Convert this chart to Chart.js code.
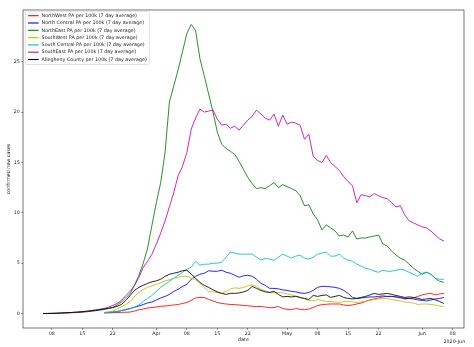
<!DOCTYPE html>
<html>
<head>
<meta charset="utf-8">
<script src="https://cdn.jsdelivr.net/npm/chart.js@4/dist/chart.umd.min.js"></script>
<style>
  html, body { margin: 0; padding: 0; background: #fff; }
  canvas { display: block; }
</style>
</head>
<body>
<canvas id="chart" width="474" height="347"></canvas>
<script>
// Daily series begin on this date; one value per day (null = no report yet).
const startDate = '2020-03-06';

const tickDates = ['2020-03-08', '2020-03-15', '2020-03-22', '2020-04-01', '2020-04-08', '2020-04-15',
                   '2020-04-22', '2020-05-01', '2020-05-08', '2020-05-15', '2020-05-22', '2020-06-01', '2020-06-08'];
const tickLabels = ['08', '15', '22', 'Apr', '08', '15', '22', 'May', '08', '15', '22', 'Jun', '08'];
const yTicks = [0, 5, 10, 15, 20, 25];

const seriesNames = [
  'NorthWest PA per 100k (7 day average)',
  'North Central PA per 100k (7 day average)',
  'NorthEast PA per 100k (7 day average)',
  'SouthWest PA per 100k (7 day average)',
  'South Central PA per 100k (7 day average)',
  'SouthEast PA per 100k (7 day average)',
  'Allegheny County per 100k (7 day average)'
];
const seriesColors = ['#ff0000', '#0000ff', '#008000', '#bfbf00', '#00bfbf', '#bf00bf', '#000000'];

const none14 = [null, null, null, null, null, null, null, null, null, null, null, null, null, null];

const northWest = none14.concat([
  0.05, 0.06, 0.08, 0.1, 0.12, 0.13,
  0.15, 0.25, 0.37, 0.45, 0.55, 0.6, 0.65, 0.72, 0.75, 0.8,
  0.85, 0.9, 1.0, 1.1, 1.3, 1.55, 1.6, 1.6, 1.4, 1.25,
  1.1, 1.0, 0.95, 0.9, 0.88, 0.85, 0.8, 0.78, 0.72, 0.7,
  0.7, 0.65, 0.58, 0.6, 0.7, 0.5, 0.42, 0.38, 0.5, 0.42,
  0.38, 0.45, 0.6, 0.8, 0.88, 0.92, 0.95, 0.95, 0.95, 0.85,
  0.8, 0.85, 0.95, 1.05, 1.2, 1.35, 1.45, 1.55, 1.65, 1.7,
  1.7, 1.65, 1.55, 1.45, 1.5, 1.55, 1.7, 1.85, 1.95, 2.0,
  1.85, 1.95, 2.0
]);

const northCentral = none14.concat([
  0.1, 0.12, 0.15, 0.2, 0.3, 0.4,
  0.5, 0.62, 0.75, 0.9, 1.05, 1.15, 1.35, 1.55, 1.7, 1.9,
  2.2, 2.4, 2.7, 2.9, 3.4, 3.7, 3.9, 4.0, 4.25, 4.2,
  4.2, 4.3, 4.1, 4.0, 3.8, 3.6, 3.75, 3.8, 3.7, 3.4,
  3.0, 2.8, 2.5, 2.5, 2.45, 2.35, 2.3, 2.2, 2.15, 2.05,
  2.0, 2.1, 2.3, 2.6, 2.7, 2.7, 2.65, 2.6, 2.5, 2.3,
  2.0, 1.6, 1.5, 1.55, 1.6, 1.65, 1.65, 1.7, 1.75, 1.7,
  1.7, 1.65, 1.6, 1.5, 1.5, 1.45, 1.35, 1.3, 1.25, 1.35,
  1.45, 1.5, 1.6
]);

const northEast = [
  0.0, 0.0, 0.01, 0.02, 0.03, 0.05, 0.07, 0.09, 0.1, 0.13,
  0.17, 0.22, 0.27, 0.33, 0.4, 0.5, 0.6, 0.85, 1.15, 1.55,
  2.0, 2.8, 3.8, 5.0, 6.5, 8.8, 11.0, 13.0, 16.0, 21.0,
  22.6, 24.2, 26.0, 27.8, 28.7, 28.1, 25.3, 23.6, 21.8, 20.0,
  18.0, 16.8, 16.4, 16.1, 15.8, 15.1, 14.3, 13.5, 12.9, 12.4,
  12.5, 12.4, 12.7, 13.0, 12.5, 12.8, 12.6, 12.4, 12.2, 11.7,
  10.7, 10.8, 9.9, 9.3, 8.3, 8.8, 8.5, 8.2, 7.7, 7.8,
  7.6, 8.2, 7.4, 7.5, 7.5, 7.6, 7.7, 7.8, 6.9, 6.7,
  6.2, 5.8, 5.5, 5.3, 4.9, 4.5, 4.2, 3.9, 4.1, 3.9,
  3.5, 3.2, 3.1
];

const southWest = none14.concat([
  0.1, 0.15, 0.25, 0.45, 0.7, 0.9,
  1.2, 1.7, 2.1, 2.4, 2.6, 2.75, 2.9, 3.05, 3.25, 3.35,
  3.5, 3.6, 3.7, 3.7, 3.5, 3.35, 3.0, 2.6, 2.2, 2.15,
  2.1, 2.0, 2.2, 2.45, 2.55, 2.5, 2.6, 2.75, 2.85, 2.7,
  2.4, 2.25, 2.1, 2.05, 2.1, 2.05, 1.95, 1.85, 1.75, 1.6,
  1.45, 1.3, 1.25, 1.4, 1.3, 1.2, 1.2, 1.15, 1.1, 1.2,
  1.2, 1.15, 1.1, 1.15, 1.2, 1.3, 1.4, 1.45, 1.5, 1.5,
  1.4, 1.3, 1.25, 1.15, 1.1, 1.05, 0.9, 0.95, 0.95, 0.9,
  0.85, 0.75, 0.7
]);

const southCentral = none14.concat([
  0.1, 0.12, 0.15, 0.2, 0.28, 0.36,
  0.48, 0.65, 0.85, 1.2, 1.5, 1.8, 2.2, 2.6, 2.9, 3.2,
  3.5, 3.8, 4.1, 4.4, 4.6, 5.2, 4.8, 4.9, 4.9, 5.0,
  5.0, 5.1, 5.6, 6.1, 6.0, 5.9, 5.9, 5.9, 5.9, 5.6,
  5.3, 5.5, 5.4, 5.3, 5.6, 5.9, 5.7, 5.5, 5.7, 5.8,
  5.5, 5.4, 5.6, 5.9, 6.0, 6.1, 5.7, 5.7, 5.9, 5.5,
  5.3, 5.2, 4.9, 4.7, 4.5, 4.4, 4.2, 4.1, 4.3, 4.2,
  4.2, 4.3, 4.4, 4.3, 4.1, 3.9, 3.7, 4.0, 4.1, 3.9,
  3.5, 3.4, 3.4
]);

const southEast = [
  0.0, 0.01, 0.02, 0.03, 0.05, 0.07, 0.09, 0.12, 0.15, 0.19,
  0.24, 0.3, 0.36, 0.43, 0.5, 0.62, 0.8, 1.0, 1.3, 1.8,
  2.2, 2.8, 3.6, 4.6, 5.2, 5.9, 6.9, 8.0, 9.2, 10.6,
  12.0, 13.7, 14.6, 16.0, 18.3, 19.4, 20.3, 20.0, 20.1, 20.2,
  19.3, 18.7, 18.8, 18.4, 18.6, 18.2, 18.7, 19.2, 19.6, 20.2,
  19.8, 19.4, 19.2, 19.8, 18.6, 19.7, 18.8, 19.0, 18.9, 18.7,
  17.3, 17.8, 15.6, 15.2, 15.0, 15.7, 15.0, 14.6, 14.2, 13.6,
  13.1, 12.7, 11.0, 11.8, 11.7, 11.6, 11.9, 11.7, 11.5, 11.4,
  11.0, 10.6, 10.7, 9.8, 9.2, 9.0, 8.8, 8.6, 8.5, 8.2,
  7.8, 7.4, 7.2
];

const allegheny = [
  0.0, 0.01, 0.02, 0.03, 0.05, 0.07, 0.09, 0.12, 0.15, 0.18,
  0.22, 0.27, 0.32, 0.38, 0.45, 0.52, 0.6, 0.72, 0.9, 1.3,
  1.8, 2.3, 2.6, 2.8, 3.0, 3.15, 3.25, 3.4, 3.7, 3.9,
  4.0, 4.1, 4.25, 4.3, 3.9, 3.5, 3.1, 2.8, 2.6, 2.35,
  2.15, 2.0, 1.9, 2.0, 2.0, 2.05, 2.15, 2.3, 2.7, 2.5,
  2.3, 2.15, 2.1, 2.2, 1.9, 1.65, 1.7, 1.65, 1.7, 1.6,
  1.5, 1.4, 1.8, 1.7, 1.8, 1.85, 1.6, 1.7, 1.8, 1.6,
  1.5, 1.45, 1.5, 1.6, 1.7, 1.85, 2.0, 1.9, 1.95, 2.0,
  1.9, 1.8, 1.7, 1.6, 1.65, 1.6, 1.5, 1.4, 1.45, 1.5,
  1.35, 1.2, 1.0
];

const seriesValues = [northWest, northCentral, northEast, southWest, southCentral, southEast, allegheny];

// Day offsets relative to the first day of data.
const DAY_MS = 86400000;
const t0 = Date.parse(startDate + 'T00:00:00Z');
const dayOf = (iso) => Math.round((Date.parse(iso + 'T00:00:00Z') - t0) / DAY_MS);
const tickDays = tickDates.map(dayOf);

const nDays = northEast.length;
const firstDay = 0, lastDay = nDays - 1;
const xPad = (lastDay - firstDay) * 0.05;
let yMaxData = 0;
seriesValues.forEach(s => s.forEach(v => { if (v !== null && v > yMaxData) yMaxData = v; }));
const yPad = yMaxData * 0.05;

const FONT = '"DejaVu Sans", "Liberation Sans", sans-serif';
const FS = 4.8;

const datasets = seriesValues.map((vals, i) => ({
  label: seriesNames[i],
  data: vals.map((v, d) => ({ x: d, y: v })),
  borderColor: seriesColors[i],
  backgroundColor: seriesColors[i],
  borderWidth: 0.85,
  pointRadius: 0,
  tension: 0,
  fill: false,
  spanGaps: false,
  order: seriesValues.length - i
}));

// Frame around the plotting area (all four spines).
const framePlugin = {
  id: 'frame',
  afterDatasetsDraw(chart) {
    const { ctx, chartArea: a } = chart;
    ctx.save();
    ctx.strokeStyle = '#3a3a3a';
    ctx.lineWidth = 0.7;
    ctx.strokeRect(a.left, a.top, a.right - a.left, a.bottom - a.top);
    ctx.restore();
  }
};

// Legend box in the upper-left corner of the plot.
const legendPlugin = {
  id: 'cornerLegend',
  afterDraw(chart) {
    const { ctx, chartArea: a } = chart;
    const ds = chart.data.datasets;
    ctx.save();
    ctx.font = FS + 'px ' + FONT;
    let maxW = 0;
    ds.forEach(d => { maxW = Math.max(maxW, ctx.measureText(d.label).width); });
    const x0 = a.left + 2.3, y0 = a.top + 1.2;
    const pitch = 7.3;
    const lineX0 = x0 + 2.7, lineX1 = x0 + 13.4, textX = x0 + 16.3;
    const w = textX - x0 + maxW + 2.5;
    const h = ds.length * pitch + 2.2;
    const r = 1.2;
    ctx.beginPath();
    ctx.moveTo(x0 + r, y0);
    ctx.lineTo(x0 + w - r, y0);
    ctx.quadraticCurveTo(x0 + w, y0, x0 + w, y0 + r);
    ctx.lineTo(x0 + w, y0 + h - r);
    ctx.quadraticCurveTo(x0 + w, y0 + h, x0 + w - r, y0 + h);
    ctx.lineTo(x0 + r, y0 + h);
    ctx.quadraticCurveTo(x0, y0 + h, x0, y0 + h - r);
    ctx.lineTo(x0, y0 + r);
    ctx.quadraticCurveTo(x0, y0, x0 + r, y0);
    ctx.closePath();
    ctx.fillStyle = 'rgba(255,255,255,0.8)';
    ctx.fill();
    ctx.strokeStyle = '#cccccc';
    ctx.lineWidth = 0.6;
    ctx.stroke();
    ctx.textBaseline = 'middle';
    ctx.textAlign = 'left';
    ds.forEach((d, i) => {
      const cy = y0 + 4.5 + i * pitch;
      ctx.strokeStyle = d.borderColor;
      ctx.lineWidth = 1.1;
      ctx.beginPath();
      ctx.moveTo(lineX0, cy);
      ctx.lineTo(lineX1, cy);
      ctx.stroke();
      ctx.fillStyle = '#1a1a1a';
      ctx.fillText(d.label, textX, cy);
    });
    ctx.restore();
  }
};

// Year/month offset label at the right end of the date axis.
const offsetTextPlugin = {
  id: 'offsetText',
  afterDraw(chart) {
    const { ctx, chartArea: a } = chart;
    ctx.save();
    ctx.font = FS + 'px ' + FONT;
    ctx.fillStyle = '#1a1a1a';
    ctx.textAlign = 'right';
    ctx.textBaseline = 'middle';
    ctx.fillText('2020-Jun', a.right + 1.2, a.bottom + 13.5);
    ctx.restore();
  }
};

new Chart(document.getElementById('chart'), {
  type: 'line',
  data: { datasets },
  options: {
    responsive: false,
    devicePixelRatio: 1,
    animation: false,
    parsing: true,
    layout: { padding: { top: 10, right: 10, left: 0, bottom: 0 } },
    plugins: {
      legend: { display: false },
      tooltip: { enabled: false }
    },
    scales: {
      x: {
        type: 'linear',
        min: firstDay - xPad,
        max: lastDay + xPad,
        afterBuildTicks(scale) { scale.ticks = tickDays.map(v => ({ value: v })); },
        afterFit(scale) { scale.height = 19; },
        grid: { display: true, drawOnChartArea: false, drawTicks: true, tickLength: 1.7, tickColor: '#333', tickWidth: 0.6 },
        border: { display: false },
        ticks: {
          autoSkip: false,
          maxRotation: 0,
          padding: 1.2,
          color: '#1a1a1a',
          font: { family: FONT, size: FS },
          callback: (v, i) => tickLabels[i]
        },
        title: {
          display: true,
          text: 'date',
          color: '#1a1a1a',
          font: { family: FONT, size: FS },
          padding: { top: 0, bottom: 4.1 }
        }
      },
      y: {
        type: 'linear',
        min: -yPad,
        max: yMaxData + yPad,
        afterBuildTicks(scale) { scale.ticks = yTicks.map(v => ({ value: v })); },
        afterFit(scale) { scale.width = 23; },
        grid: { display: true, drawOnChartArea: false, drawTicks: true, tickLength: 1.7, tickColor: '#333', tickWidth: 0.6 },
        border: { display: false },
        ticks: {
          padding: 1.5,
          color: '#1a1a1a',
          font: { family: FONT, size: FS },
          callback: (v) => String(v)
        },
        title: {
          display: true,
          text: 'confirmed new cases',
          color: '#1a1a1a',
          font: { family: FONT, size: FS },
          padding: { top: 6.1, bottom: 0 }
        }
      }
    }
  },
  plugins: [framePlugin, legendPlugin, offsetTextPlugin]
});
</script>
</body>
</html>
